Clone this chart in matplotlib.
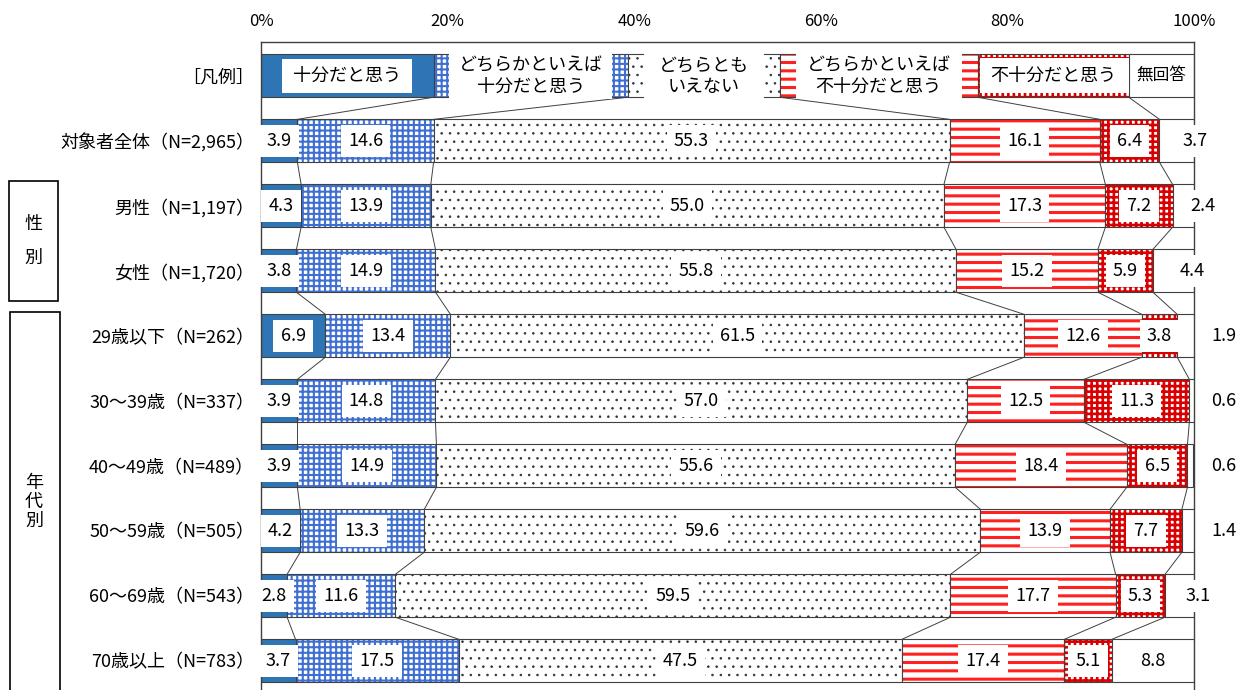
import matplotlib
matplotlib.use("Agg")
import matplotlib.pyplot as plt
from matplotlib.patches import Rectangle
import numpy as np

plt.rcParams['font.family'] = ['Noto Sans CJK JP', 'DejaVu Sans']

# categories and values (%)
categories = ["十分だと思う", "どちらかといえば\n十分だと思う", "どちらとも\nいえない",
              "どちらかといえば\n不十分だと思う", "不十分だと思う", "無回答"]
row_labels = ["［凡例］", "対象者全体（N=2,965）", "男性（N=1,197）", "女性（N=1,720）",
              "29歳以下（N=262）", "30～39歳（N=337）", "40～49歳（N=489）",
              "50～59歳（N=505）", "60～69歳（N=543）", "70歳以上（N=783）"]
tick_labels = ["0%", "20%", "40%", "60%", "80%", "100%"]

legend_vals = [18.5, 20.8, 16.3, 21.2, 16.2, 7.0]
juubun = [3.9, 4.3, 3.8, 6.9, 3.9, 3.9, 4.2, 2.8, 3.7]
dochira_juubun = [14.6, 13.9, 14.9, 13.4, 14.8, 14.9, 13.3, 11.6, 17.5]
dochiramo = [55.3, 55.0, 55.8, 61.5, 57.0, 55.6, 59.6, 59.5, 47.5]
dochira_fujuubun = [16.1, 17.3, 15.2, 12.6, 12.5, 18.4, 13.9, 17.7, 17.4]
fujuubun = [6.4, 7.2, 5.9, 3.8, 11.3, 6.5, 7.7, 5.3, 5.1]
mukaitou = [3.7, 2.4, 4.4, 1.9, 0.6, 0.6, 1.4, 3.1, 8.8]

H = 0.66
EDGE = '#404040'
styles = [
    dict(fc='#2E75B6', hatch=None, hc=None, hlw=1),
    dict(fc='white', hatch='+++', hc='#3F6FD0', hlw=1.5),
    dict(fc='white', hatch='..', hc='#333333', hlw=0.6),
    dict(fc='white', hatch='--', hc='#FF2020', hlw=2.2),
    dict(fc='white', hatch='+++', hc='#D80000', hlw=1.9),
    dict(fc='white', hatch=None, hc=None, hlw=1),
]


# draw one stacked bar, segment by segment (hatch layer + outline layer)
def draw_row(ax, y, vals):
    left = 0
    for v, st in zip(vals, styles):
        if st['hatch']:
            with plt.rc_context({'hatch.linewidth': st['hlw']}):
                bars = ax.barh(y, v, left=left, height=H, color=st['fc'],
                               edgecolor=st['hc'], hatch=st['hatch'], linewidth=0)
                for p in bars:
                    if hasattr(p, 'set_hatch_linewidth'):
                        p.set_hatch_linewidth(st['hlw'])
        else:
            ax.barh(y, v, left=left, height=H, color=st['fc'], linewidth=0)
        ax.barh(y, v, left=left, height=H, fill=False, edgecolor=EDGE, linewidth=0.8)
        left += v


fig = plt.figure(figsize=(12.4, 6.9), dpi=100)
W, HP = 1240, 690
ax = fig.add_axes([261 / W, 0, 933 / W, (690 - 42) / HP])

rows = np.array([juubun, dochira_juubun, dochiramo, dochira_fujuubun, fujuubun, mukaitou]).T
all_rows = [legend_vals] + [list(r) for r in rows]

for i, vals in enumerate(all_rows):
    draw_row(ax, i, vals)

# connector lines between consecutive bars
for i in range(len(all_rows) - 1):
    c1 = np.cumsum(all_rows[i])[:5]
    c2 = np.cumsum(all_rows[i + 1])[:5]
    for a, b in zip(c1, c2):
        ax.plot([a, b], [i + H / 2, i + 1 - H / 2], color=EDGE, lw=0.7, zorder=1)

# legend row: white boxes with category names
lc = np.concatenate([[0], np.cumsum(legend_vals)])
for k, name in enumerate(categories):
    x0, x1 = lc[k], lc[k + 1]
    if k == 0:
        ax.add_patch(Rectangle((x0 + 2.3, -H / 2 + 0.07), (x1 - x0) - 4.6, H - 0.14,
                               fc='white', ec='none', zorder=3))
    elif k in (1, 2, 3):
        ax.add_patch(Rectangle((x0 + 1.7, -H / 2 - 0.02), (x1 - x0) - 3.4, H + 0.04,
                               fc='white', ec='none', zorder=3))
    elif k == 4:
        ax.add_patch(Rectangle((x0 + 0.3, -H / 2 + 0.06), (x1 - x0) - 0.3, H - 0.12,
                               fc='white', ec='none', zorder=3))
    ax.text((x0 + x1) / 2, 0, name, ha='center', va='center', fontsize=13 if k < 5 else 12,
            linespacing=1.25, zorder=4)

# value labels
for i, vals in enumerate(rows, start=1):
    left = 0
    for k, v in enumerate(vals):
        x = left + v / 2
        if k == 5 and v < 5:
            x = 103.2 if v < 2 else left + v / 2 + 2.0
        ax.text(x, i, f"{v:.1f}", ha='center', va='center', fontsize=13, zorder=5,
                clip_on=False,
                bbox=dict(boxstyle='square,pad=0.4', fc='white', ec='none'))
        left += v

ax.set_xlim(0, 100)
ax.set_ylim(9.45, -0.52)
ax.xaxis.tick_top()
ax.set_xticks(np.arange(0, 101, 20))
ax.set_xticklabels(tick_labels, fontsize=12)
ax.set_yticks(range(len(row_labels)))
ax.set_yticklabels(row_labels, fontsize=13)
ax.tick_params(axis='x', length=0, pad=9)
ax.tick_params(axis='y', length=0, pad=5)
ax.spines['bottom'].set_visible(False)
for s in ('top', 'left', 'right'):
    ax.spines[s].set_color('#404040')
    ax.spines[s].set_linewidth(1.0)

# group boxes on the left
fig.add_artist(Rectangle((9 / W, 1 - 301 / HP), 49 / W, 120 / HP, transform=fig.transFigure,
                         fill=False, ec='black', lw=1.2))
fig.text(33 / W, 1 - 241 / HP, "性\n\n別", ha='center', va='center', fontsize=13,
         linespacing=0.95)
fig.add_artist(Rectangle((10 / W, -0.05), 50 / W, 1 - 312 / HP + 0.05,
                         transform=fig.transFigure, fill=False, ec='black', lw=1.2))
fig.text(34 / W, 1 - 502 / HP, "年\n代\n別", ha='center', va='center', fontsize=13,
         linespacing=1.1)

fig.savefig("out.png", dpi=100)
